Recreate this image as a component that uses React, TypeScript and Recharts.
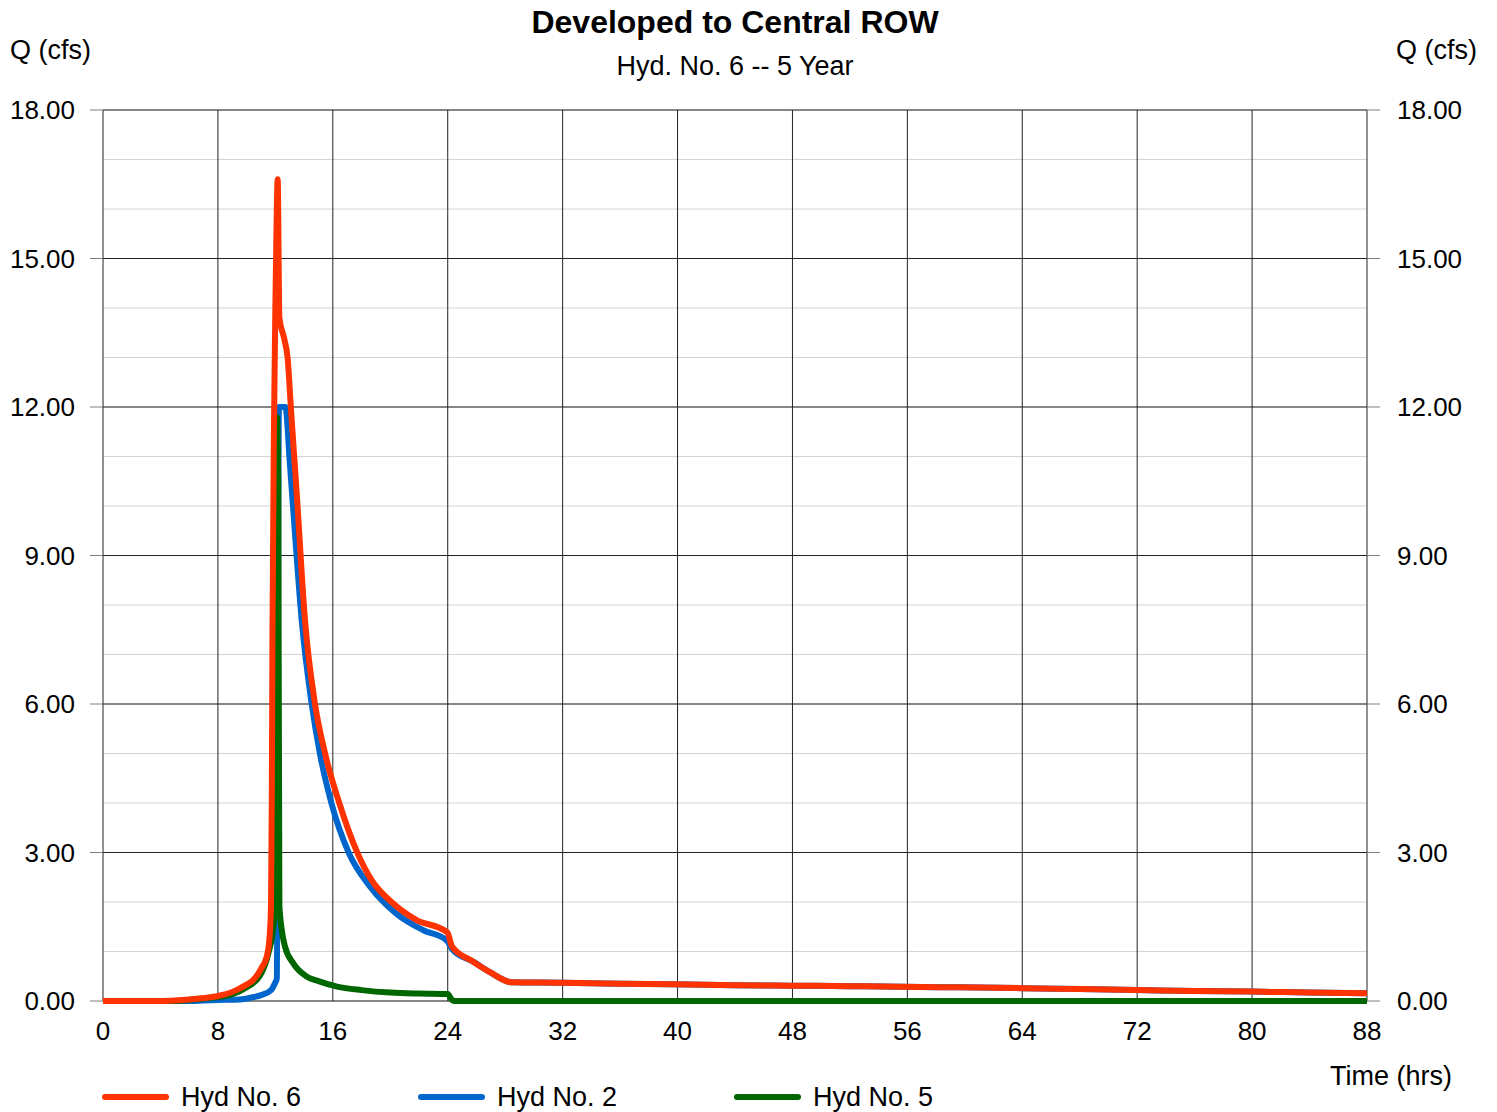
import React from 'react';
import {
  LineChart,
  Line,
  XAxis,
  YAxis,
  CartesianGrid,
} from 'recharts';

/* ---------- data (hrs, cfs) ---------- */
const hyd6Time = [
  0, 4, 5, 6, 7, 8, 9, 9.5, 10, 10.45, 11, 11.4, 11.6, 11.7, 11.75, 11.8, 11.9,
  12.0, 12.1, 12.16, 12.28, 12.6, 12.85, 13.1, 13.5, 14.06, 14.76, 15.46, 16.45,
  17.7, 18.7, 20.2, 21.8, 23.9, 24.0, 24.3, 25.8, 26.9, 28.45, 32, 36, 39.7, 44,
  47.8, 52, 58.3, 64, 68, 72, 76, 80, 84, 88,
];
const hyd6Flow = [
  0, 0, 0.01, 0.03, 0.06, 0.1, 0.18, 0.25, 0.33, 0.42, 0.65, 0.9, 1.3, 2.0, 4.0,
  7.5, 11.5, 14.0, 16.0, 16.6, 13.8, 13.4, 13.0, 11.9, 10.2, 7.7, 6.0, 5.0, 4.0,
  3.0, 2.44, 1.97, 1.64, 1.4, 1.37, 1.1, 0.79, 0.59, 0.38, 0.37, 0.35, 0.34,
  0.32, 0.31, 0.3, 0.28, 0.26, 0.24, 0.22, 0.2, 0.19, 0.17, 0.155,
];

const hyd2Time = [
  0, 5.5, 7, 8, 9.5, 10.5, 11, 11.7, 11.97, 12.1, 12.25, 12.7, 13.0, 13.4,
  13.83, 14.53, 15.1, 15.9, 17.1, 18.6, 20.4, 22.3, 23.9, 24.0, 24.3, 25.8,
  26.9, 28.45, 32, 36, 39.7, 44, 47.8, 52, 58.3, 64, 68, 72, 76, 80, 84, 88,
];
const hyd2Flow = [
  0, 0, 0.01, 0.02, 0.03, 0.08, 0.12, 0.22, 0.36, 0.45, 12.0, 12.0, 10.9, 9.3,
  7.7, 6.0, 5.0, 4.0, 3.0, 2.31, 1.77, 1.43, 1.23, 1.2, 1.05, 0.79, 0.59, 0.38,
  0.37, 0.35, 0.34, 0.32, 0.31, 0.3, 0.28, 0.26, 0.24, 0.22, 0.2, 0.19, 0.17,
  0.155,
];

const hyd5Time = [
  0, 5, 6, 7, 8, 9, 10, 10.9, 11.5, 11.9, 12.0, 12.1, 12.2, 12.28, 12.67, 13.25,
  14.2, 15.0, 16.3, 18.0, 20.0, 22.0, 24.0, 24.3, 24.5, 88,
];
const hyd5Flow = [
  0, 0, 0.02, 0.05, 0.08, 0.14, 0.28, 0.5, 0.95, 1.6, 4.0, 11.8, 10.5, 1.9, 1.1,
  0.76, 0.49, 0.4, 0.29, 0.22, 0.17, 0.15, 0.14, 0.02, 0, 0,
];

const timeTicks = [0, 8, 16, 24, 32, 40, 48, 56, 64, 72, 80, 88];
const flowTicks = [0, 3, 6, 9, 12, 15, 18];
const minorTicks = [
  0, 1, 2, 3, 4, 5, 6, 7, 8, 9, 10, 11, 12, 13, 14, 15, 16, 17, 18,
];

const COLORS = {
  hyd6: '#ff3300',
  hyd2: '#0066cc',
  hyd5: '#006600',
};

const toRows = (times: number[], flows: number[]) =>
  times.map((t, i) => ({ t, q: flows[i] }));

const hyd6Data = toRows(hyd6Time, hyd6Flow);
const hyd2Data = toRows(hyd2Time, hyd2Flow);
const hyd5Data = toRows(hyd5Time, hyd5Flow);

const legendItems = [
  { name: 'Hyd No. 6', color: COLORS.hyd6, x: 103 },
  { name: 'Hyd No. 2', color: COLORS.hyd2, x: 419 },
  { name: 'Hyd No. 5', color: COLORS.hyd5, x: 735 },
];

const FONT = '"Liberation Sans", Arial, sans-serif';
const tickStyle = { fontSize: 26, fill: '#000' };

export default function App() {
  return (
    <div
      style={{
        position: 'absolute',
        left: 0,
        top: 0,
        width: 1497,
        height: 1112,
        background: '#fff',
        fontFamily: FONT,
      }}
    >
      <LineChart
        width={1497}
        height={1112}
        margin={{ top: 110, right: 0, bottom: 0, left: 0 }}
      >
        {/* minor grid every 1 cfs, then the major grid on top */}
        <CartesianGrid
          yAxisId="minor"
          vertical={false}
          stroke="#d4d4d4"
          strokeWidth={1}
        />
        <CartesianGrid stroke="#222" strokeWidth={1} />

        <XAxis
          type="number"
          dataKey="t"
          domain={[0, 88]}
          ticks={timeTicks}
          allowDataOverflow
          axisLine={false}
          tickLine={false}
          tickSize={0}
          tickMargin={21}
          height={111}
          tick={tickStyle}
        />
        <YAxis
          type="number"
          domain={[0, 18]}
          ticks={flowTicks}
          width={103}
          axisLine={false}
          tickLine={{ stroke: '#808080' }}
          tickSize={13}
          tickMargin={15}
          tickFormatter={(v: number) => v.toFixed(2)}
          tick={tickStyle}
        />
        <YAxis
          yAxisId="right"
          orientation="right"
          type="number"
          domain={[0, 18]}
          ticks={flowTicks}
          width={130}
          axisLine={false}
          tickLine={{ stroke: '#808080' }}
          tickSize={13}
          tickMargin={17}
          tickFormatter={(v: number) => v.toFixed(2)}
          tick={tickStyle}
        />
        <YAxis
          yAxisId="minor"
          type="number"
          domain={[0, 18]}
          ticks={minorTicks}
          hide
        />

        {/* all three axes share the 0-18 scale; each series is bound to one
            so every axis gets drawn */}
        <Line
          data={hyd2Data}
          dataKey="q"
          type="monotone"
          stroke={COLORS.hyd2}
          strokeWidth={6}
          strokeLinecap="round"
          strokeLinejoin="round"
          dot={false}
          isAnimationActive={false}
        />
        <Line
          data={hyd5Data}
          yAxisId="minor"
          dataKey="q"
          type="monotone"
          stroke={COLORS.hyd5}
          strokeWidth={6}
          strokeLinecap="round"
          strokeLinejoin="round"
          dot={false}
          isAnimationActive={false}
        />
        <Line
          data={hyd6Data}
          yAxisId="right"
          dataKey="q"
          type="monotone"
          stroke={COLORS.hyd6}
          strokeWidth={6}
          strokeLinecap="round"
          strokeLinejoin="round"
          dot={false}
          isAnimationActive={false}
        />
      </LineChart>

      {/* titles, axis captions and legend */}
      <svg
        width={1497}
        height={1112}
        style={{ position: 'absolute', left: 0, top: 0, pointerEvents: 'none' }}
      >
        <text
          x={735}
          y={33}
          textAnchor="middle"
          fontSize={32}
          fontWeight="bold"
          fill="#000"
        >
          Developed to Central ROW
        </text>
        <text x={735} y={75} textAnchor="middle" fontSize={27} fill="#000">
          Hyd. No. 6 -- 5 Year
        </text>
        <text x={10} y={59} fontSize={27} fill="#000">
          Q (cfs)
        </text>
        <text x={1477} y={59} textAnchor="end" fontSize={27} fill="#000">
          Q (cfs)
        </text>
        <text x={1452} y={1085} textAnchor="end" fontSize={27} fill="#000">
          Time (hrs)
        </text>
        {legendItems.map((item) => (
          <g key={item.name}>
            <line
              x1={item.x + 2}
              x2={item.x + 63}
              y1={1097}
              y2={1097}
              stroke={item.color}
              strokeWidth={6}
              strokeLinecap="round"
            />
            <text x={item.x + 78} y={1106} fontSize={27} fill="#000">
              {item.name}
            </text>
          </g>
        ))}
      </svg>
    </div>
  );
}
